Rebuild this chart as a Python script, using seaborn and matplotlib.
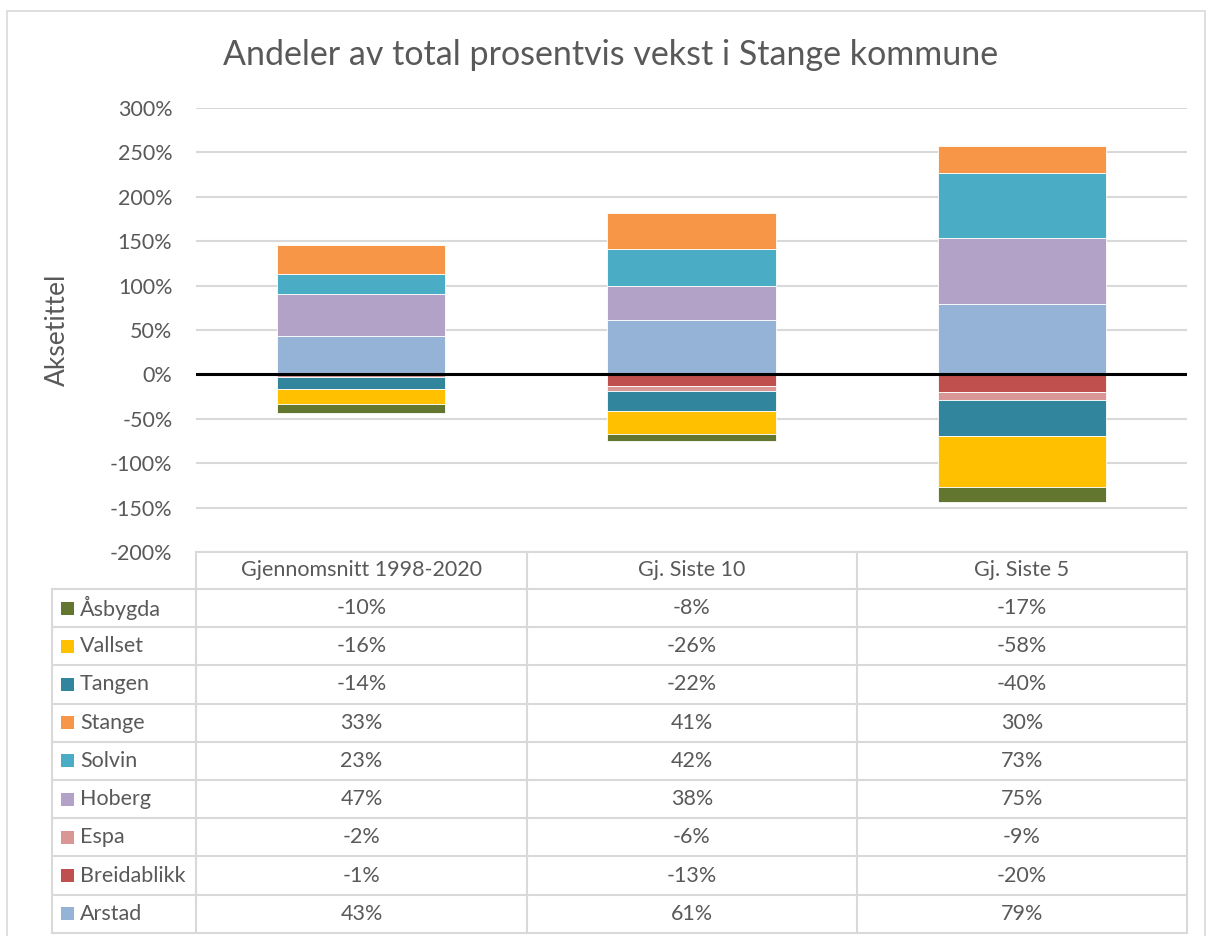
import matplotlib
matplotlib.use("Agg")
import matplotlib.pyplot as plt
import seaborn as sns
import numpy as np
from matplotlib.patches import Rectangle
from matplotlib.lines import Line2D
from matplotlib.ticker import FuncFormatter, MultipleLocator

# data (percent)
periods = ["Gjennomsnitt 1998-2020", "Gj. Siste 10", "Gj. Siste 5"]
areas = ["Arstad", "Breidablikk", "Espa", "Hoberg", "Solvin",
         "Stange", "Tangen", "Vallset", "Åsbygda"]
arstad = [43, 61, 79]
breidablikk = [-1, -13, -20]
espa = [-2, -6, -9]
hoberg = [47, 38, 75]
solvin = [23, 42, 73]
stange = [33, 41, 30]
tangen = [-14, -22, -40]
vallset = [-16, -26, -58]
asbygda = [-10, -8, -17]

series = [arstad, breidablikk, espa, hoberg, solvin, stange, tangen, vallset, asbygda]
colors = ["#95B3D7", "#C0504D", "#D99694", "#B3A2C7", "#4BACC6",
          "#F79646", "#31859C", "#FFC000", "#63762F"]

W, H = 1212, 936
TXT = "#595959"
GRID = "#D9D9D9"

sns.set_theme(style="white")
plt.rcParams["font.family"] = ["Lato", "DejaVu Sans"]

fig = plt.figure(figsize=(W / 100, H / 100), dpi=100)


def fx(px):
    return px / W


def fy(py):
    return 1 - py / H


# chart border
fig.add_artist(Rectangle((fx(7), fy(940)), fx(1205) - fx(7), fy(11) - fy(940),
                         transform=fig.transFigure, fill=False,
                         edgecolor=GRID, linewidth=1.2))

ax = fig.add_axes([fx(196), fy(552), fx(1187) - fx(196), fy(108) - fy(552)])

pos_bottom = np.zeros(len(periods))
neg_bottom = np.zeros(len(periods))
for vals, col in zip(series, colors):
    vals = np.array(vals, dtype=float)
    bottom = np.where(vals >= 0, pos_bottom, neg_bottom)
    sns.barplot(x=periods, y=vals, bottom=bottom, color=col, width=0.51,
                errorbar=None, saturation=1, linewidth=0.6, edgecolor="white",
                ax=ax, zorder=3)
    pos_bottom = np.where(vals >= 0, pos_bottom + vals, pos_bottom)
    neg_bottom = np.where(vals < 0, neg_bottom + vals, neg_bottom)

ax.set_ylim(-200, 300)
ax.set_xlim(-0.5, len(periods) - 0.5)
ax.yaxis.set_major_locator(MultipleLocator(50))
ax.yaxis.set_major_formatter(FuncFormatter(lambda v, p: f"{v:.0f}%"))
ax.grid(axis="y", color=GRID, linewidth=1.5, zorder=0)
ax.grid(axis="x", visible=False)
ax.axhline(0, color="black", linewidth=2.2, zorder=4)
for s in ax.spines.values():
    s.set_visible(False)
ax.set_xticks([])
ax.set_xlabel("")
ax.set_ylabel("")
ax.tick_params(axis="y", labelsize=15.5, labelcolor=TXT, length=0, pad=17)

fig.text(fx(57), fy(330), "Aksetittel", rotation=90, ha="center", va="center",
         fontsize=19, color=TXT)
fig.text(fx(611), fy(55), "Andeler av total prosentvis vekst i Stange kommune",
         ha="center", va="center", fontsize=24.5, color=TXT)

# data table
col_edges = [196, 527, 857, 1187]
label_left = 52
head_top, head_bot = 552, 589
row_h = 38.2
table_rows = list(range(len(areas)))[::-1]  # Åsbygda first
n_rows = len(areas)
table_bot = head_bot + n_rows * row_h
FS = 15.5


def hline(x0, x1, y):
    fig.add_artist(Line2D([fx(x0), fx(x1)], [fy(y), fy(y)], transform=fig.transFigure,
                          color=GRID, linewidth=1.5))


def vline(x, y0, y1):
    fig.add_artist(Line2D([fx(x), fx(x)], [fy(y0), fy(y1)], transform=fig.transFigure,
                          color=GRID, linewidth=1.5))


hline(col_edges[0], col_edges[-1], head_top)
for i in range(n_rows + 1):
    hline(label_left, col_edges[-1], head_bot + i * row_h)
for x in col_edges:
    vline(x, head_top, table_bot)
vline(label_left, head_bot, table_bot)

for j, name in enumerate(periods):
    cx = (col_edges[j] + col_edges[j + 1]) / 2
    fig.text(fx(cx), fy((head_top + head_bot) / 2), name, ha="center", va="center",
             fontsize=FS, color=TXT)

for r, k in enumerate(table_rows):
    yc = head_bot + (r + 0.5) * row_h
    fig.add_artist(Rectangle((fx(61), fy(yc + 6.5)), fx(13), 13 / H,
                             transform=fig.transFigure, facecolor=colors[k],
                             edgecolor="none"))
    fig.text(fx(80), fy(yc), areas[k], ha="left", va="center", fontsize=FS, color=TXT)
    for j in range(len(periods)):
        cx = (col_edges[j] + col_edges[j + 1]) / 2
        fig.text(fx(cx), fy(yc), f"{series[k][j]}%", ha="center", va="center",
                 fontsize=FS, color=TXT)

fig.savefig("out.png", dpi=100)
